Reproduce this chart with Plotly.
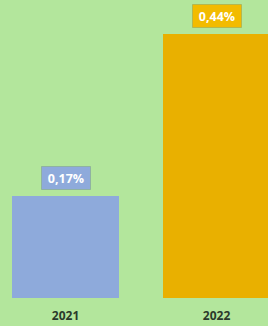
import plotly.graph_objects as go

categories = ["2021", "2022"]
values = [0.17, 0.44]
labels = ["0,17%", "0,44%"]
bar_colors = ["#8eaadb", "#e9b000"]
label_colors = ["#8eaadb", "#f2bb00"]

fig = go.Figure()
fig.add_trace(go.Bar(
    x=categories, y=values,
    marker=dict(color=bar_colors, line=dict(width=0)),
    width=0.71,
    hoverinfo="skip",
))

for i, (v, t, col) in enumerate(zip(values, labels, label_colors)):
    fig.add_annotation(
        x=i, y=v, text="<b>" + t + "</b>", showarrow=False,
        yanchor="bottom", yshift=6, width=42, height=16,
        font=dict(family="Open Sans", size=12.5, color="white"),
        bgcolor=col, borderpad=3, bordercolor="rgba(90,110,80,0.25)", borderwidth=1,
    )

fig.update_layout(
    width=268, height=326,
    margin=dict(l=0, r=0, t=0, b=28),
    paper_bgcolor="#b3e69c", plot_bgcolor="#b3e69c",
    showlegend=False,
    xaxis=dict(type="category", range=[-0.434, 1.341], showgrid=False, zeroline=False,
               showline=False, ticks="", ticklabelstandoff=9,
               tickfont=dict(family="Open Sans", size=12, color="#2b3a2b", weight="bold"),
               fixedrange=True),
    yaxis=dict(range=[0, 0.4967], visible=False, fixedrange=True),
    bargap=0,
)

fig.write_html("out.html", config={"displayModeBar": False},
               post_script="document.body.style.margin='0';document.body.style.overflow='hidden';")
